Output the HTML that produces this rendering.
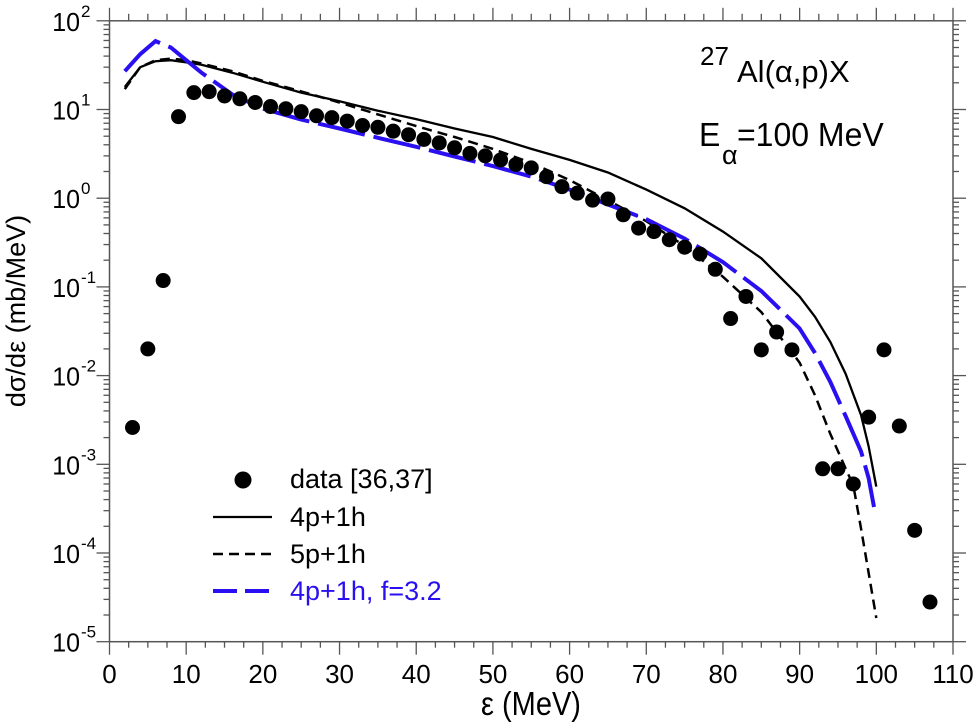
<!DOCTYPE html>
<html><head><meta charset="utf-8"><style>
body{margin:0;background:#fff}
svg{display:block;font-family:"Liberation Sans",sans-serif}
</style></head><body>
<svg id="c" width="975" height="725"></svg>
<script>
const dataX=[3,5,7,9,11,13,15,17,19,21,23,25,27,29,31,33,35,37,39,41,43,45,47,49,51,53,55,57,59,61,63,65,67,69,71,73,75,77,79,81,83,85,87,89,93,95,97,99,101,103,105,107];
const dataY=[2.6e-3,0.02,0.118,8.3,15.5,15.9,14.2,13.2,12,10.8,10.2,9.45,8.5,8.1,7.4,6.6,6.3,5.7,5.2,4.6,4.2,3.7,3.2,3.0,2.7,2.4,2.2,1.75,1.35,1.14,0.95,0.98,0.65,0.46,0.42,0.34,0.28,0.235,0.158,0.044,0.078,0.0195,0.031,0.0195,8.9e-4,8.9e-4,6e-4,3.4e-3,0.0195,2.7e-3,1.8e-4,2.8e-5];
const solidX=[2,4,6,8,10,12,16,20,25,30,35,40,45,50,55,60,65,70,75,80,85,90,92,94,96,98,99,100];
const solidY=[18,30,35,36,34,32,26,20.5,15.5,12.4,9.7,7.8,6.1,4.9,3.6,2.7,1.95,1.25,0.77,0.42,0.21,0.078,0.046,0.024,0.0105,3.6e-3,1.6e-3,5.6e-4];
const dashX=[2,4,6,8,10,12,16,20,25,30,35,40,45,50,55,60,65,70,75,80,85,90,92,94,95,96,97,98,99,100];
const dashY=[17,30,36,37.5,36,33,27,21,16,12,8.8,6.5,4.9,3.6,2.5,1.6,0.95,0.55,0.29,0.13,0.052,0.014,6e-3,2.2e-3,1.4e-3,9e-4,5.8e-4,1.9e-4,6e-5,1.85e-5];
const blueX=[2,4,6,8,10,12,16,20,25,30,35,40,45,50,55,60,65,70,75,80,85,90,92,94,96,98,99,99.7];
const blueY=[27,42,59,50,36,26,14.8,10.2,7.7,6.1,4.8,3.8,2.95,2.3,1.75,1.25,0.85,0.58,0.35,0.19,0.09,0.034,0.018,8.5e-3,3.5e-3,1.4e-3,7e-4,3.3e-4];
const xTicks=[0,10,20,30,40,50,60,70,80,90,100,110];
const yExps=[2,1,0,-1,-2,-3,-4,-5];

const NS="http://www.w3.org/2000/svg",svg=document.getElementById('c');
const L=109.5,R=953,T=20.8,B=641.7;
const X=v=>L+(v-0)*(R-L)/110;
const Y=v=>B-(Math.log10(v)+5)*(B-T)/7;
function el(t,a,p){const e=document.createElementNS(NS,t);for(const k in a)e.setAttribute(k,a[k]);(p||svg).appendChild(e);return e;}
function txt(x,y,fs,sy,anchor,str,p,fill){const t=el('text',{x:0,y:0,'font-size':fs,'text-anchor':anchor,fill:fill||'#000',transform:'translate('+x+','+y+') scale(1,'+sy+')'},p);t.textContent=str;return t;}
const ax='#555';
const fr=el('rect',{x:L,y:T,width:R-L,height:B-T,fill:'none',stroke:ax,'stroke-width':1.5});


const gx=el('g',{});


for(let v=0;v<=110;v+=2.5){const maj=v%10===0;const x=X(v);
 el('line',{x1:x,x2:x,y1:B,y2:B+(maj?13:6),stroke:ax,'stroke-width':1.3},gx);
 el('line',{x1:x,x2:x,y1:T,y2:T-(maj?13:7),stroke:ax,'stroke-width':1.3},gx);}
xTicks.forEach(v=>{const t=txt(X(v),683,26,1,'middle',String(v),gx);
 
 });
const gy=el('g',{});


for(let e=-5;e<2;e++)for(let m=1;m<10;m++){const y=Y(m*Math.pow(10,e));const len=m===1?13:6;
 el('line',{x1:L,x2:L-len,y1:y,y2:y,stroke:ax,'stroke-width':1.3},gy);
 el('line',{x1:R,x2:R+len,y1:y,y2:y,stroke:ax,'stroke-width':1.3},gy);}
el('line',{x1:L,x2:L-13,y1:T,y2:T,stroke:ax,'stroke-width':1.3},gy);
el('line',{x1:R,x2:R+13,y1:T,y2:T,stroke:ax,'stroke-width':1.3},gy);
yExps.forEach(e=>{const y=Y(Math.pow(10,e));const t=txt(80,y+10,25,1.05,'end','10',gy);
 
 
 txt(81,y-4,17,1,'start',String(e),gy);});
const yt=el('text',{x:0,y:0,'font-size':27,'text-anchor':'middle',transform:'translate(25,311) rotate(-90)'});yt.textContent='dσ/dε (mb/MeV)';


const xt=txt(531,715,29,1.15,'middle','ε (MeV)');


function pts(xs,ys){return xs.map((x,i)=>X(x).toFixed(1)+','+Y(ys[i]).toFixed(1)).join(' ');}
const s1=el('polyline',{points:pts(solidX,solidY),fill:'none',stroke:'#000','stroke-width':2.3});


const s2=el('polyline',{points:pts(dashX,dashY),fill:'none',stroke:'#000','stroke-width':2.5,'stroke-dasharray':'10,6'});


const s3=el('polyline',{points:pts(blueX,blueY),fill:'none',stroke:'#2a10f0','stroke-width':4,'stroke-dasharray':'48,9'});


const gd=el('g',{});


dataX.forEach((x,i)=>{const c=el('circle',{cx:X(x),cy:Y(dataY[i]),r:7.5,fill:'#000'},gd);
 
 });
const lg=el('g',{});


el('circle',{cx:243,cy:480,r:8.5,fill:'#000'},lg);
el('line',{x1:213,x2:272,y1:517,y2:517,stroke:'#000','stroke-width':2.3},lg);
el('line',{x1:213,x2:272,y1:554,y2:554,stroke:'#000','stroke-width':2.5,'stroke-dasharray':'10,6'},lg);
el('line',{x1:213,x2:272,y1:591,y2:591,stroke:'#2a10f0','stroke-width':4,'stroke-dasharray':'24,8'},lg);
[['data [36,37]',488,'#000'],['4p+1h',526,'#000'],['5p+1h',563,'#000'],['4p+1h, f=3.2',600,'#2a10f0']].forEach(a=>{
 const t=txt(290,a[1],27,1,'start',a[0],lg,a[2]);
 
 });
const an=el('g',{});


txt(700,65,26,1,'start','27',an);
txt(737,82,31,1,'start','Al(α,p)X',an);
const en=el('g',{});


txt(699,146,32,1.05,'start','E',en);
txt(722,164,27,1,'start','α',en);
txt(737,146,32,1.05,'start','=100 MeV',en);
</script>
</body></html>
